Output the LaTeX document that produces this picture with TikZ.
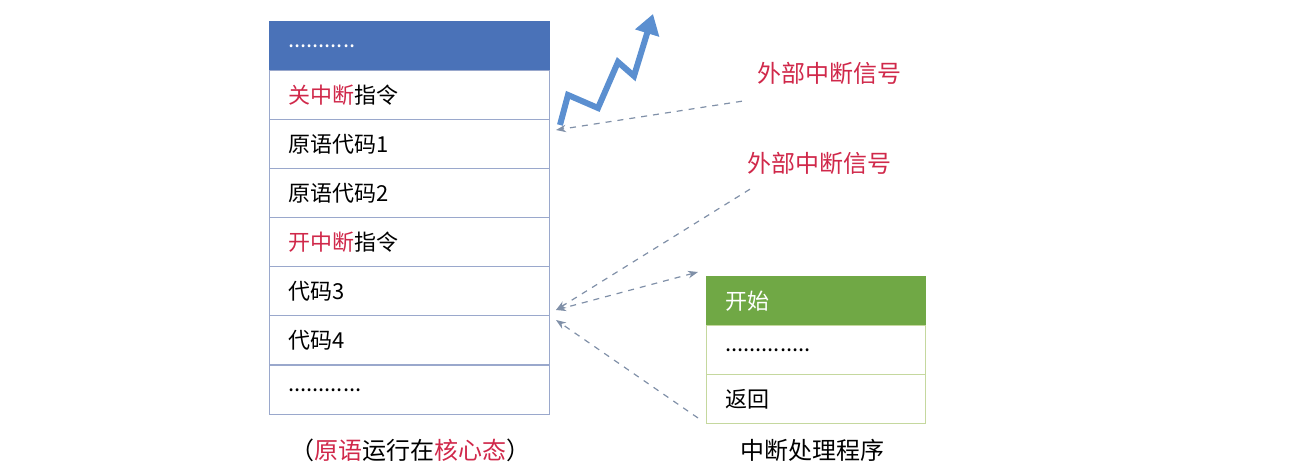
\documentclass[tikz,border=0pt]{standalone}
\usepackage{fontspec}
\setmainfont{Noto Sans CJK SC}
\usetikzlibrary{arrows.meta}
\definecolor{hblue}{HTML}{4A72B8}
\definecolor{hgreen}{HTML}{70A845}
\definecolor{bblue}{HTML}{9AA8CC}
\definecolor{bgreen}{HTML}{C5D89E}
\definecolor{rd}{HTML}{D0284A}
\definecolor{zz}{HTML}{5B8FD0}
\definecolor{dsh}{HTML}{8090A8}
\begin{document}
\begin{tikzpicture}[x=0.5pt,y=-0.5pt,
  cell/.style={draw=bblue,line width=0.6pt,minimum width=140pt,minimum height=24.5pt,anchor=north west,inner sep=0pt,text depth=0pt,font=\fontsize{11}{11}\selectfont},
  lt/.style={cell,label={[anchor=west,font=\fontsize{11}{11}\selectfont,xshift=6pt]west:#1}},
  rcell/.style={draw=bgreen,line width=0.6pt,minimum width=109.5pt,minimum height=24.5pt,anchor=north west,inner sep=0pt},
  rt/.style={rcell,label={[anchor=west,font=\fontsize{11}{11}\selectfont,xshift=6pt]west:#1}},
  lab/.style={font=\fontsize{12}{12}\selectfont,text=rd},
  da/.style={dashed,dsh,line width=0.6pt,-{Stealth[length=5pt]}}]
\useasboundingbox (0,0) rectangle (1298,470);
\node[lt={\color{white}...........},fill=hblue,draw=hblue] (r0) at (269,21) {};
\node[lt={\color{rd}关中断\color{black}指令}] (r1) at (269,70) {};
\node[lt={原语代码1}] (r2) at (269,119) {};
\node[lt={原语代码2}] (r3) at (269,168) {};
\node[lt={\color{rd}开中断\color{black}指令}] (r4) at (269,217) {};
\node[lt={代码3}] (r5) at (269,266) {};
\node[lt={代码4}] (r6) at (269,315) {};
\node[lt={............}] (r7) at (269,365) {};
\node[rt={\color{white}开始},fill=hgreen,draw=hgreen] (s0) at (706,276) {};
\node[rt={..............}] (s1) at (706,325) {};
\node[rt={返回}] (s2) at (706,374) {};
\node[lab] (l1) at (829,73) {外部中断信号};
\node[lab] (l2) at (819,163) {外部中断信号};
\node[font=\fontsize{12}{12}\selectfont] (c1) at (410,450) {（\textcolor{rd}{原语}运行在\textcolor{rd}{核心态}）};
\node[font=\fontsize{12}{12}\selectfont] (c2) at (812,450) {中断处理程序};
\coordinate (p1) at (556,130);
\coordinate (p2) at (556,310);
\coordinate (p3) at (556,320);
\coordinate (q1) at (698,272);
\coordinate (q2) at (698,418);
\draw[da] (l1.south west) ++(-8,10) -- (p1);
\draw[da] (l2.south west) ++(10,8) -- (p2);
\draw[da,{Stealth[length=5pt]}-{Stealth[length=5pt]}] (q1) -- (p2);
\draw[da] (q2) -- (p3);
\draw[zz,line width=3pt,-{Triangle[length=10pt,width=12pt]}] (560,125) -- (568,95) -- (598,108) -- (618,62) -- (634,76) -- (653,14);
\end{tikzpicture}
\end{document}
